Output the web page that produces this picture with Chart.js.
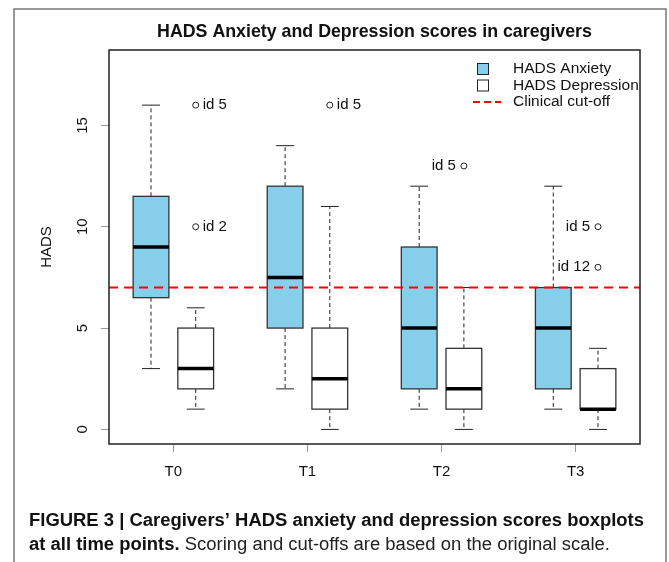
<!DOCTYPE html>
<html>
<head>
<meta charset="utf-8">
<script src="https://cdn.jsdelivr.net/npm/chart.js@4.4.0/dist/chart.umd.min.js"></script>
<style>
  html, body { margin: 0; padding: 0; background: #fff; }
  canvas { display: block; }
</style>
</head>
<body>
<canvas id="chart" width="669" height="562"></canvas>
<script>
// values (HADS score)
const timePoints = ['T0', 'T1', 'T2', 'T3'];
const anxietyMin = [3, 2, 1, 1];
const anxietyQ1 = [6.5, 5, 2, 2];
const anxietyMedian = [9, 7.5, 5, 5];
const anxietyQ3 = [11.5, 12, 9, 7];
const anxietyMax = [16, 14, 12, 12];
const depressionMin = [1, 0, 0, 0];
const depressionQ1 = [2, 1, 1, 1];
const depressionMedian = [3, 2.5, 2, 1];
const depressionQ3 = [5, 5, 4, 3];
const depressionMax = [6, 11, 7, 4];
// depression outliers: which time point, value, label
const outlierGroup = [0, 0, 1, 2, 3, 3];
const outlierValues = [16, 10, 16, 13, 10, 8];
const outlierLabels = ['id 5', 'id 2', 'id 5', 'id 5', 'id 5', 'id 12'];
const cutoff = 7;
const yTicks = [0, 5, 10, 15];

const FONT = '"Liberation Sans", Arial, Helvetica, sans-serif';
const anxPos = i => 3 * i + 1;
const depPos = i => 3 * i + 2;
const groupPos = i => 3 * i + 1.5;

const boxPlugin = {
    id: 'boxes',
    beforeDatasetsDraw(chart) {
        const { ctx, scales: { x, y } } = chart;
        const drawBox = (pos, lo, q1, med, q3, hi, fill) => {
            const xl = x.getPixelForValue(pos - 0.4);
            const xr = x.getPixelForValue(pos + 0.4);
            const xc = x.getPixelForValue(pos);
            const sl = x.getPixelForValue(pos - 0.2);
            const sr = x.getPixelForValue(pos + 0.2);
            ctx.save();
            // whiskers
            ctx.strokeStyle = '#222';
            ctx.lineWidth = 1;
            ctx.setLineDash([4, 3]);
            ctx.beginPath();
            ctx.moveTo(xc, y.getPixelForValue(q3));
            ctx.lineTo(xc, y.getPixelForValue(hi));
            ctx.moveTo(xc, y.getPixelForValue(q1));
            ctx.lineTo(xc, y.getPixelForValue(lo));
            ctx.stroke();
            ctx.setLineDash([]);
            ctx.beginPath();
            ctx.moveTo(sl, y.getPixelForValue(hi));
            ctx.lineTo(sr, y.getPixelForValue(hi));
            ctx.moveTo(sl, y.getPixelForValue(lo));
            ctx.lineTo(sr, y.getPixelForValue(lo));
            ctx.stroke();
            // box
            const yt = y.getPixelForValue(q3), yb = y.getPixelForValue(q1);
            ctx.fillStyle = fill;
            ctx.fillRect(xl, yt, xr - xl, yb - yt);
            ctx.strokeStyle = '#333';
            ctx.lineWidth = 1.3;
            ctx.strokeRect(xl, yt, xr - xl, yb - yt);
            // median
            ctx.strokeStyle = '#000';
            ctx.lineWidth = 3.5;
            ctx.beginPath();
            ctx.moveTo(xl, y.getPixelForValue(med));
            ctx.lineTo(xr, y.getPixelForValue(med));
            ctx.stroke();
            ctx.restore();
        };
        timePoints.forEach((t, i) => {
            drawBox(anxPos(i), anxietyMin[i], anxietyQ1[i], anxietyMedian[i], anxietyQ3[i], anxietyMax[i], '#87CEEB');
            drawBox(depPos(i), depressionMin[i], depressionQ1[i], depressionMedian[i], depressionQ3[i], depressionMax[i], '#fff');
        });
    }
};

const textPlugin = {
    id: 'texts',
    afterDraw(chart) {
        const { ctx, chartArea: a, scales: { x, y } } = chart;
        ctx.save();
        // outer frame and plot box
        ctx.strokeStyle = '#777';
        ctx.lineWidth = 1.5;
        ctx.strokeRect(14, 9, 652, 600);
        ctx.strokeStyle = '#222';
        ctx.lineWidth = 1.5;
        ctx.strokeRect(a.left, a.top, a.right - a.left, a.bottom - a.top);

        ctx.fillStyle = '#111';
        // title
        ctx.font = 'bold 17.8px ' + FONT;
        ctx.textAlign = 'center';
        ctx.textBaseline = 'middle';
        ctx.fillText('HADS Anxiety and Depression scores in caregivers', (a.left + a.right) / 2, 32);

        // x tick labels
        ctx.font = '15px ' + FONT;
        timePoints.forEach((t, i) => ctx.fillText(t, x.getPixelForValue(groupPos(i)), a.bottom + 28));

        // y tick labels and title, rotated
        yTicks.forEach(v => {
            ctx.save();
            ctx.translate(a.left - 26, y.getPixelForValue(v));
            ctx.rotate(-Math.PI / 2);
            ctx.fillText(String(v), 0, 0);
            ctx.restore();
        });
        ctx.save();
        ctx.translate(47, (a.top + a.bottom) / 2);
        ctx.rotate(-Math.PI / 2);
        ctx.fillText('HADS', 0, 0);
        ctx.restore();

        // outlier labels
        outlierValues.forEach((v, k) => {
            const px = x.getPixelForValue(depPos(outlierGroup[k]));
            const py = y.getPixelForValue(v);
            if (outlierGroup[k] < 2) {
                ctx.textAlign = 'left';
                ctx.fillText(outlierLabels[k], px + 7, py);
            } else {
                ctx.textAlign = 'right';
                ctx.fillText(outlierLabels[k], px - 8, py);
            }
        });

        // legend
        const lx = a.left + 368, ly = a.top + 19;
        ctx.font = '15.5px ' + FONT;
        ctx.textAlign = 'left';
        ctx.lineWidth = 1;
        ctx.strokeStyle = '#222';
        ctx.fillStyle = '#87CEEB';
        ctx.fillRect(lx + 0.5, ly - 5.5, 11, 11);
        ctx.strokeRect(lx + 0.5, ly - 5.5, 11, 11);
        ctx.fillStyle = '#fff';
        ctx.fillRect(lx + 0.5, ly + 11, 11, 11);
        ctx.strokeRect(lx + 0.5, ly + 11, 11, 11);
        ctx.strokeStyle = 'red';
        ctx.lineWidth = 2;
        ctx.setLineDash([7, 4]);
        ctx.beginPath();
        ctx.moveTo(lx - 4, ly + 33);
        ctx.lineTo(lx + 24, ly + 33);
        ctx.stroke();
        ctx.setLineDash([]);
        ctx.fillStyle = '#111';
        ctx.fillText('HADS Anxiety', lx + 36, ly);
        ctx.fillText('HADS Depression', lx + 36, ly + 16.5);
        ctx.fillText('Clinical cut-off', lx + 36, ly + 33);

        // caption
        const line1 = 'FIGURE 3 | Caregivers\u2019 HADS anxiety and depression scores boxplots';
        ctx.font = 'bold 18px ' + FONT;
        const sx = 615 / ctx.measureText(line1).width;
        ctx.save();
        ctx.translate(29, 521);
        ctx.scale(sx, 1);
        ctx.fillText(line1, 0, 0);
        ctx.restore();
        ctx.save();
        ctx.translate(29, 545);
        ctx.scale(sx, 1);
        const bold2 = 'at all time points.';
        ctx.fillText(bold2, 0, 0);
        const bw = ctx.measureText(bold2).width;
        ctx.font = '18px ' + FONT;
        ctx.fillStyle = '#222';
        ctx.fillText(' Scoring and cut-offs are based on the original scale.', bw, 0);
        ctx.restore();
        ctx.restore();
    }
};

new Chart(document.getElementById('chart'), {
    type: 'scatter',
    data: {
        datasets: [
            {
                label: 'Outliers',
                data: outlierValues.map((v, k) => ({ x: depPos(outlierGroup[k]), y: v })),
                pointStyle: 'circle',
                pointRadius: 3,
                borderColor: '#222',
                backgroundColor: 'rgba(0,0,0,0)',
                borderWidth: 1
            },
            {
                type: 'line',
                label: 'Clinical cut-off',
                data: [{ x: 0.06, y: cutoff }, { x: 11.94, y: cutoff }],
                borderColor: '#f00',
                borderWidth: 2,
                borderDash: [9, 6],
                pointRadius: 0,
                fill: false
            }
        ]
    },
    options: {
        responsive: false,
        animation: false,
        layout: { padding: { left: 0, top: 50, right: 29, bottom: 78 } },
        plugins: { legend: { display: false }, tooltip: { enabled: false } },
        scales: {
            x: {
                type: 'linear', min: 0.06, max: 11.94,
                afterBuildTicks: s => { s.ticks = timePoints.map((t, i) => ({ value: groupPos(i) })); },
                afterFit: s => { s.height = 40; },
                ticks: { display: false },
                border: { display: false },
                grid: { drawOnChartArea: false, drawTicks: true, tickLength: 8, color: '#999' }
            },
            y: {
                min: -0.72, max: 18.72,
                afterBuildTicks: s => { s.ticks = yTicks.map(v => ({ value: v })); },
                afterFit: s => { s.width = 109; },
                ticks: { display: false },
                border: { display: false },
                grid: { drawOnChartArea: false, drawTicks: true, tickLength: 8, color: '#999' }
            }
        }
    },
    plugins: [boxPlugin, textPlugin]
});
</script>
</body>
</html>
